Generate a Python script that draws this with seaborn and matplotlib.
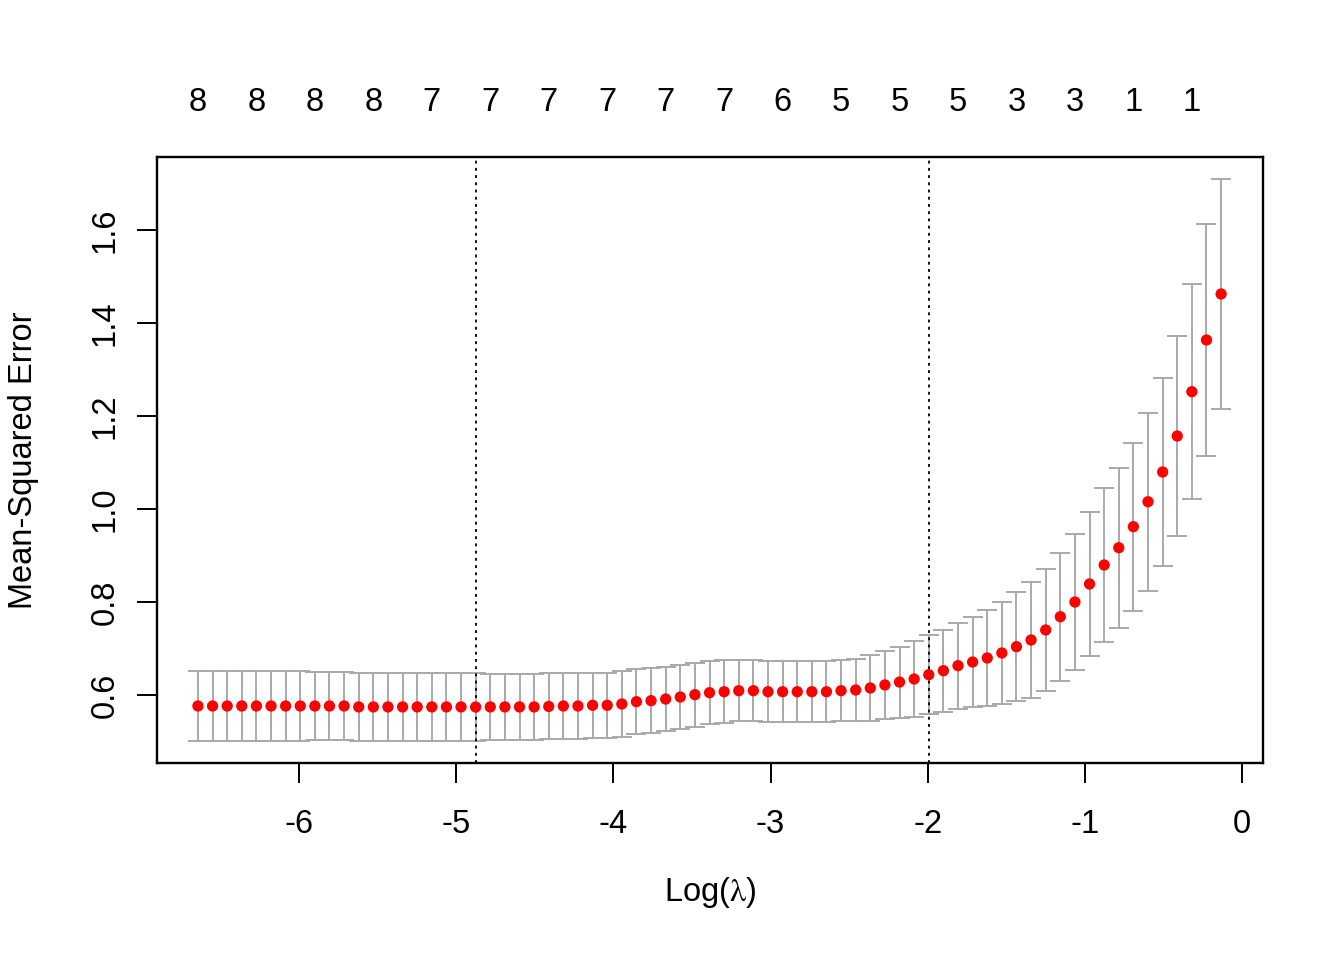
import numpy as np
import pandas as pd
import matplotlib
matplotlib.use("Agg")
import matplotlib.pyplot as plt
import seaborn as sns

# ---- data (glmnet cross-validation curve) ----
log_lambda = [
    -6.643, -6.550, -6.457, -6.364, -6.271, -6.178, -6.085, -5.992, -5.899, -5.806,
    -5.713, -5.620, -5.527, -5.434, -5.341, -5.248, -5.155, -5.062, -4.969, -4.876,
    -4.783, -4.690, -4.597, -4.504, -4.411, -4.318, -4.225, -4.132, -4.039, -3.946,
    -3.853, -3.760, -3.667, -3.574, -3.481, -3.388, -3.295, -3.202, -3.109, -3.016,
    -2.923, -2.830, -2.737, -2.644, -2.551, -2.458, -2.365, -2.272, -2.179, -2.086,
    -1.993, -1.900, -1.807, -1.714, -1.621, -1.528, -1.435, -1.342, -1.249, -1.156,
    -1.063, -0.970, -0.877, -0.784, -0.691, -0.598, -0.505, -0.412, -0.319, -0.226,
    -0.133,
]
cv_mean = [
    0.577, 0.577, 0.577, 0.577, 0.577, 0.577, 0.577, 0.577, 0.577, 0.577,
    0.577, 0.575, 0.575, 0.575, 0.575, 0.575, 0.575, 0.575, 0.575, 0.5748,
    0.575, 0.575, 0.575, 0.575, 0.576, 0.577, 0.577, 0.5785, 0.5785, 0.5813,
    0.5862, 0.5884, 0.592, 0.5963, 0.6013, 0.6056, 0.6077, 0.6099, 0.6099, 0.6077,
    0.6077, 0.6077, 0.6077, 0.6077, 0.6099, 0.6114, 0.6157, 0.6222, 0.6285, 0.635,
    0.6443, 0.6529, 0.6637, 0.6716, 0.6802, 0.691, 0.7045, 0.7189, 0.7404, 0.769,
    0.8006, 0.8394, 0.8802, 0.9174, 0.9626, 1.0163, 1.0802, 1.1576, 1.2529, 1.3641,
    1.463,
]
cv_sd = [
    0.075, 0.075, 0.075, 0.075, 0.075, 0.075, 0.075, 0.075, 0.074, 0.074,
    0.074, 0.074, 0.074, 0.074, 0.074, 0.073, 0.073, 0.073, 0.073, 0.073,
    0.071, 0.071, 0.071, 0.071, 0.071, 0.071, 0.071, 0.070, 0.070, 0.070,
    0.070, 0.070, 0.069, 0.069, 0.069, 0.0675, 0.0675, 0.0655, 0.0655, 0.0655,
    0.0655, 0.0655, 0.0655, 0.0655, 0.0655, 0.0665, 0.070, 0.0735, 0.0764, 0.081,
    0.0846, 0.0885, 0.0925, 0.0971, 0.1033, 0.1097, 0.1176, 0.124, 0.1312, 0.138,
    0.1466, 0.1548, 0.1646, 0.172, 0.1807, 0.1914, 0.2022, 0.2158, 0.2315, 0.2487,
    0.248,
]
# number of non-zero coefficients shown on the top axis (every 4th lambda)
top_index = [0, 4, 8, 12, 16, 20, 24, 28, 32, 36, 40, 44, 48, 52, 56, 60, 64, 68]
top_labels = ["8", "8", "8", "8", "7", "7", "7", "7", "7", "7", "6", "5", "5", "5", "3", "3", "1", "1"]
lambda_min_log = -4.876
lambda_1se_log = -1.993
x_ticks = [-6, -5, -4, -3, -2, -1, 0]
y_ticks = [0.6, 0.8, 1.0, 1.2, 1.4, 1.6]

df = pd.DataFrame({"log_lambda": log_lambda, "mse": cv_mean, "sd": cv_sd})

# ---- style ----
sns.set_style("white")
plt.rcParams["font.family"] = ["Liberation Sans", "DejaVu Sans"]
plt.rcParams["mathtext.fontset"] = "stix"
for key in ("text.color", "axes.labelcolor", "xtick.color", "ytick.color", "axes.edgecolor"):
    plt.rcParams[key] = "black"

fig = plt.figure(figsize=(13.44, 9.6), dpi=100)
ax = fig.add_axes([157 / 1344, 1 - 763 / 960, (1263 - 157) / 1344, (763 - 157) / 960])

ax.errorbar(df["log_lambda"], df["mse"], yerr=df["sd"], fmt="none",
            ecolor="darkgrey", elinewidth=1.4, capsize=7.2, capthick=1.4, zorder=1)
sns.scatterplot(data=df, x="log_lambda", y="mse", color="red", s=66,
                edgecolor="none", linewidth=0, ax=ax, zorder=3, legend=False)

for v in (lambda_min_log, lambda_1se_log):
    ax.axvline(v, color="black", linestyle=(0, (1.6, 2.4)), linewidth=1.3, zorder=2)

ax.set_xlim(-6.9035, 0.1336)
ax.set_ylim(0.4544, 1.7576)

fs = 23.5
ax.set_xticks(x_ticks)
ax.set_xticklabels([str(t) for t in x_ticks], fontsize=fs, color="black")
ax.set_yticks(y_ticks)
ax.set_yticklabels([f"{t:.1f}" for t in y_ticks], fontsize=fs, rotation=90, va="center", color="black")
ax.tick_params(axis="both", direction="out", length=14.4, width=1.4, color="black", labelcolor="black")
ax.tick_params(axis="x", pad=19, bottom=True)
ax.tick_params(axis="y", pad=12, left=True)

for s in ax.spines.values():
    s.set_visible(True)
    s.set_color("black")
    s.set_linewidth(1.7)

top = ax.secondary_xaxis("top")
top.set_xticks([log_lambda[i] for i in top_index])
top.set_xticklabels(top_labels, fontsize=fs, color="black")
top.tick_params(axis="x", length=0, pad=28, labelcolor="black")
top.spines["top"].set_visible(False)

ax.set_xlabel(r"Log($\mathrm{\lambda}$)", fontsize=fs, color="black")
ax.set_ylabel("Mean-Squared Error", fontsize=fs, color="black")
ax.xaxis.set_label_coords(0.5, (763 - 892) / 606)
ax.xaxis.label.set_va("center")
ax.yaxis.set_label_coords((24 - 157) / 1106, 0.5)
ax.yaxis.label.set_va("center")

fig.savefig("out.png", dpi=100, facecolor="white")
